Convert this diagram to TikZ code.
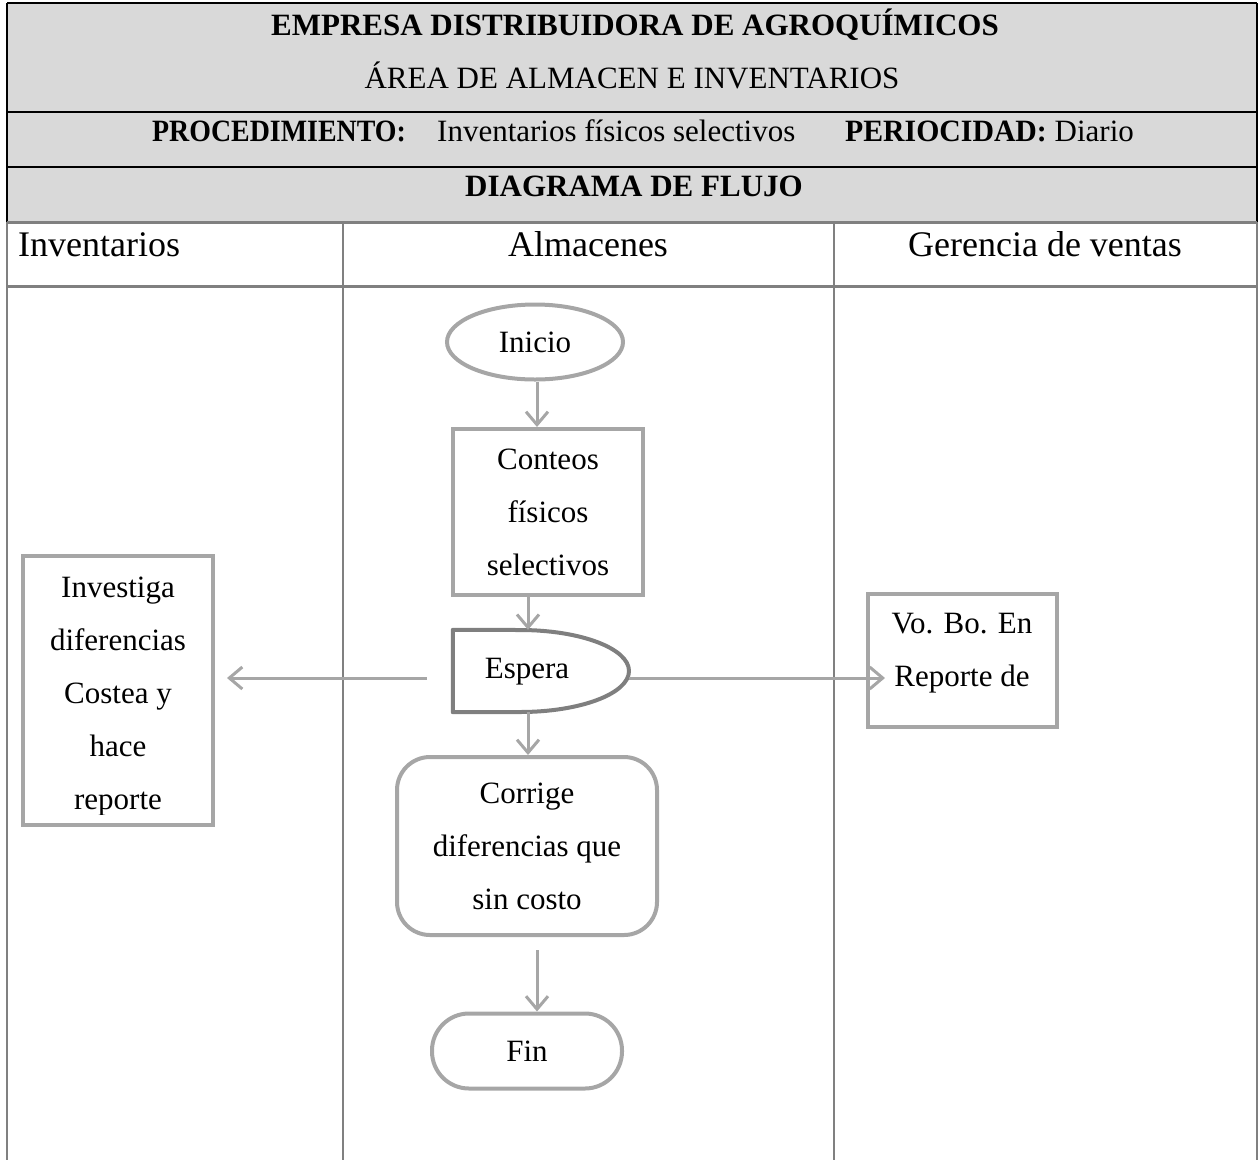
\documentclass[tikz,border=0pt]{standalone}
\usepackage{fontspec}
\setmainfont{Liberation Serif}
\usetikzlibrary{arrows.meta,shapes.geometric,calc}
\definecolor{hdrfill}{HTML}{D9D9D9}
\definecolor{shapegray}{HTML}{A6A6A6}
\definecolor{darkgray}{HTML}{7F7F7F}
\definecolor{lanegray}{HTML}{808080}
\tikzset{
  body/.style={font=\fontsize{31}{53}\selectfont, text=black, align=center, inner sep=0pt},
  lanehead/.style={font=\fontsize{36}{40}\selectfont, text=black, inner sep=0pt},
  hdr/.style={font=\fontsize{31}{36}\selectfont, text=black, inner sep=0pt},
  hdrbold/.style={font=\fontsize{31}{36}\selectfont\bfseries, text=black, inner sep=0pt},
  procbox/.style={draw=shapegray, line width=4pt, rectangle, body},
  roundbox/.style={draw=shapegray, line width=4pt, rectangle, rounded corners=33pt, body},
  termbox/.style={draw=shapegray, line width=4pt, rectangle, rounded corners=37pt, body},
  startshape/.style={draw=shapegray, line width=4pt, ellipse, body},
  conn/.style={draw=shapegray, line width=3pt, -{Straight Barb[length=13pt,width=22pt,line width=3pt]}},
}
\begin{document}
\begin{tikzpicture}[x=1pt,y=-1pt]
\useasboundingbox (0,0) rectangle (1260,1160);

% title block
\fill[hdrfill] (7,3) rectangle (1257,222);
\draw[black, line width=1.5pt] (7,3) -- (1257,3);
\draw[black, line width=2pt] (7,3) -- (7,222);
\draw[black, line width=2pt] (1257,3) -- (1257,222);
\draw[black, line width=2pt] (7,112) -- (1257,112);
\draw[black, line width=1.5pt] (7,167) -- (1257,167);
\draw[lanegray, line width=3pt] (7,222) -- (1257,222);

\node[hdrbold] (t1) at (635,25) {EMPRESA DISTRIBUIDORA DE AGROQUÍMICOS};
\node[hdr] (t2) at (632,75) {ÁREA DE ALMACEN E INVENTARIOS};
\node[hdrbold, anchor=base west] (t3a) at (152,141) {\scalebox{0.9}[1]{PROCEDIMIENTO:}};
\node[hdr, anchor=base west] (t3b) at (437,141) {Inventarios físicos selectivos};
\node[hdr, anchor=base west] (t3c) at (845,141) {\scalebox{0.96}[1]{\bfseries PERIOCIDAD:} Diario};
\node[hdrbold] (t4) at (634,186) {DIAGRAMA DE FLUJO};

% swimlanes
\draw[lanegray, line width=2pt] (7,222) -- (7,1160);
\draw[lanegray, line width=2pt] (1257,222) -- (1257,1160);
\draw[lanegray, line width=1.2pt] (343,222) -- (343,1160);
\draw[lanegray, line width=1.2pt] (834,222) -- (834,1160);
\draw[lanegray, line width=3pt] (7,286) -- (1257,286);

\node[lanehead, anchor=base west] (l1) at (18,256) {Inventarios};
\node[lanehead, anchor=base] (l2) at (588,256) {Almacenes};
\node[lanehead, anchor=base] (l3) at (1045,256) {Gerencia de ventas};

% flow shapes
\node[startshape, minimum width=176pt, minimum height=75pt] (ini) at (535,342) {Inicio};
\node[procbox, minimum width=190pt, minimum height=166pt] (cont) at (548,512) {Conteos\\físicos\\selectivos};

% delay shape
\node[rectangle, minimum width=176pt, minimum height=82pt, inner sep=0pt] (esp) at (541,671) {};
\draw[darkgray, line width=4pt, line join=round]
  (esp.north west) -- (520,630) arc[start angle=90, end angle=-90, x radius=109, y radius=-41]
  -- (esp.south west) -- cycle;
\node[body] (espt) at (527,672) {Espera};

\node[roundbox, minimum width=260pt, minimum height=178pt] (corr) at (527,846) {Corrige\\diferencias que\\sin costo};
\node[termbox, minimum width=190pt, minimum height=75pt] (fin) at (527,1051) {Fin};

\node[draw=shapegray, line width=4pt, rectangle, minimum width=189pt, minimum height=133pt] (vobo) at (962,660) {};
\node[body] (vobot) at (962,653) {Vo. Bo. En\\Reporte de};

% box whose text runs past its lower edge
\node[draw=shapegray, line width=4pt, rectangle, minimum width=190pt, minimum height=269pt] (inv) at (118,690) {};
\begin{scope}
  \clip (inv.north west) rectangle ([yshift=12pt]inv.south east);
  \node[body, anchor=north] (invt) at (118,577) {Investiga\\diferencias\\Costea y\\hace\\reporte};
\end{scope}

% connectors
\coordinate (lstart) at (427,678);
\coordinate (rtip) at (885,678);
\draw[conn] ([xshift=2pt]ini.south) -- ([xshift=2pt]ini.south |- cont.north);
\draw[conn] ([xshift=-20pt]cont.south) -- ([xshift=-13pt]esp.north);
\draw[conn] ([xshift=-13pt]esp.south) -- ([xshift=1pt]corr.north);
\draw[conn] ([yshift=-13pt,xshift=10pt]corr.south) -- ([xshift=10pt]fin.north);
\draw[conn] (lstart) -- ([xshift=12pt]lstart -| inv.east);
\draw[conn] (629,678) -- (rtip);
\end{tikzpicture}
\end{document}
